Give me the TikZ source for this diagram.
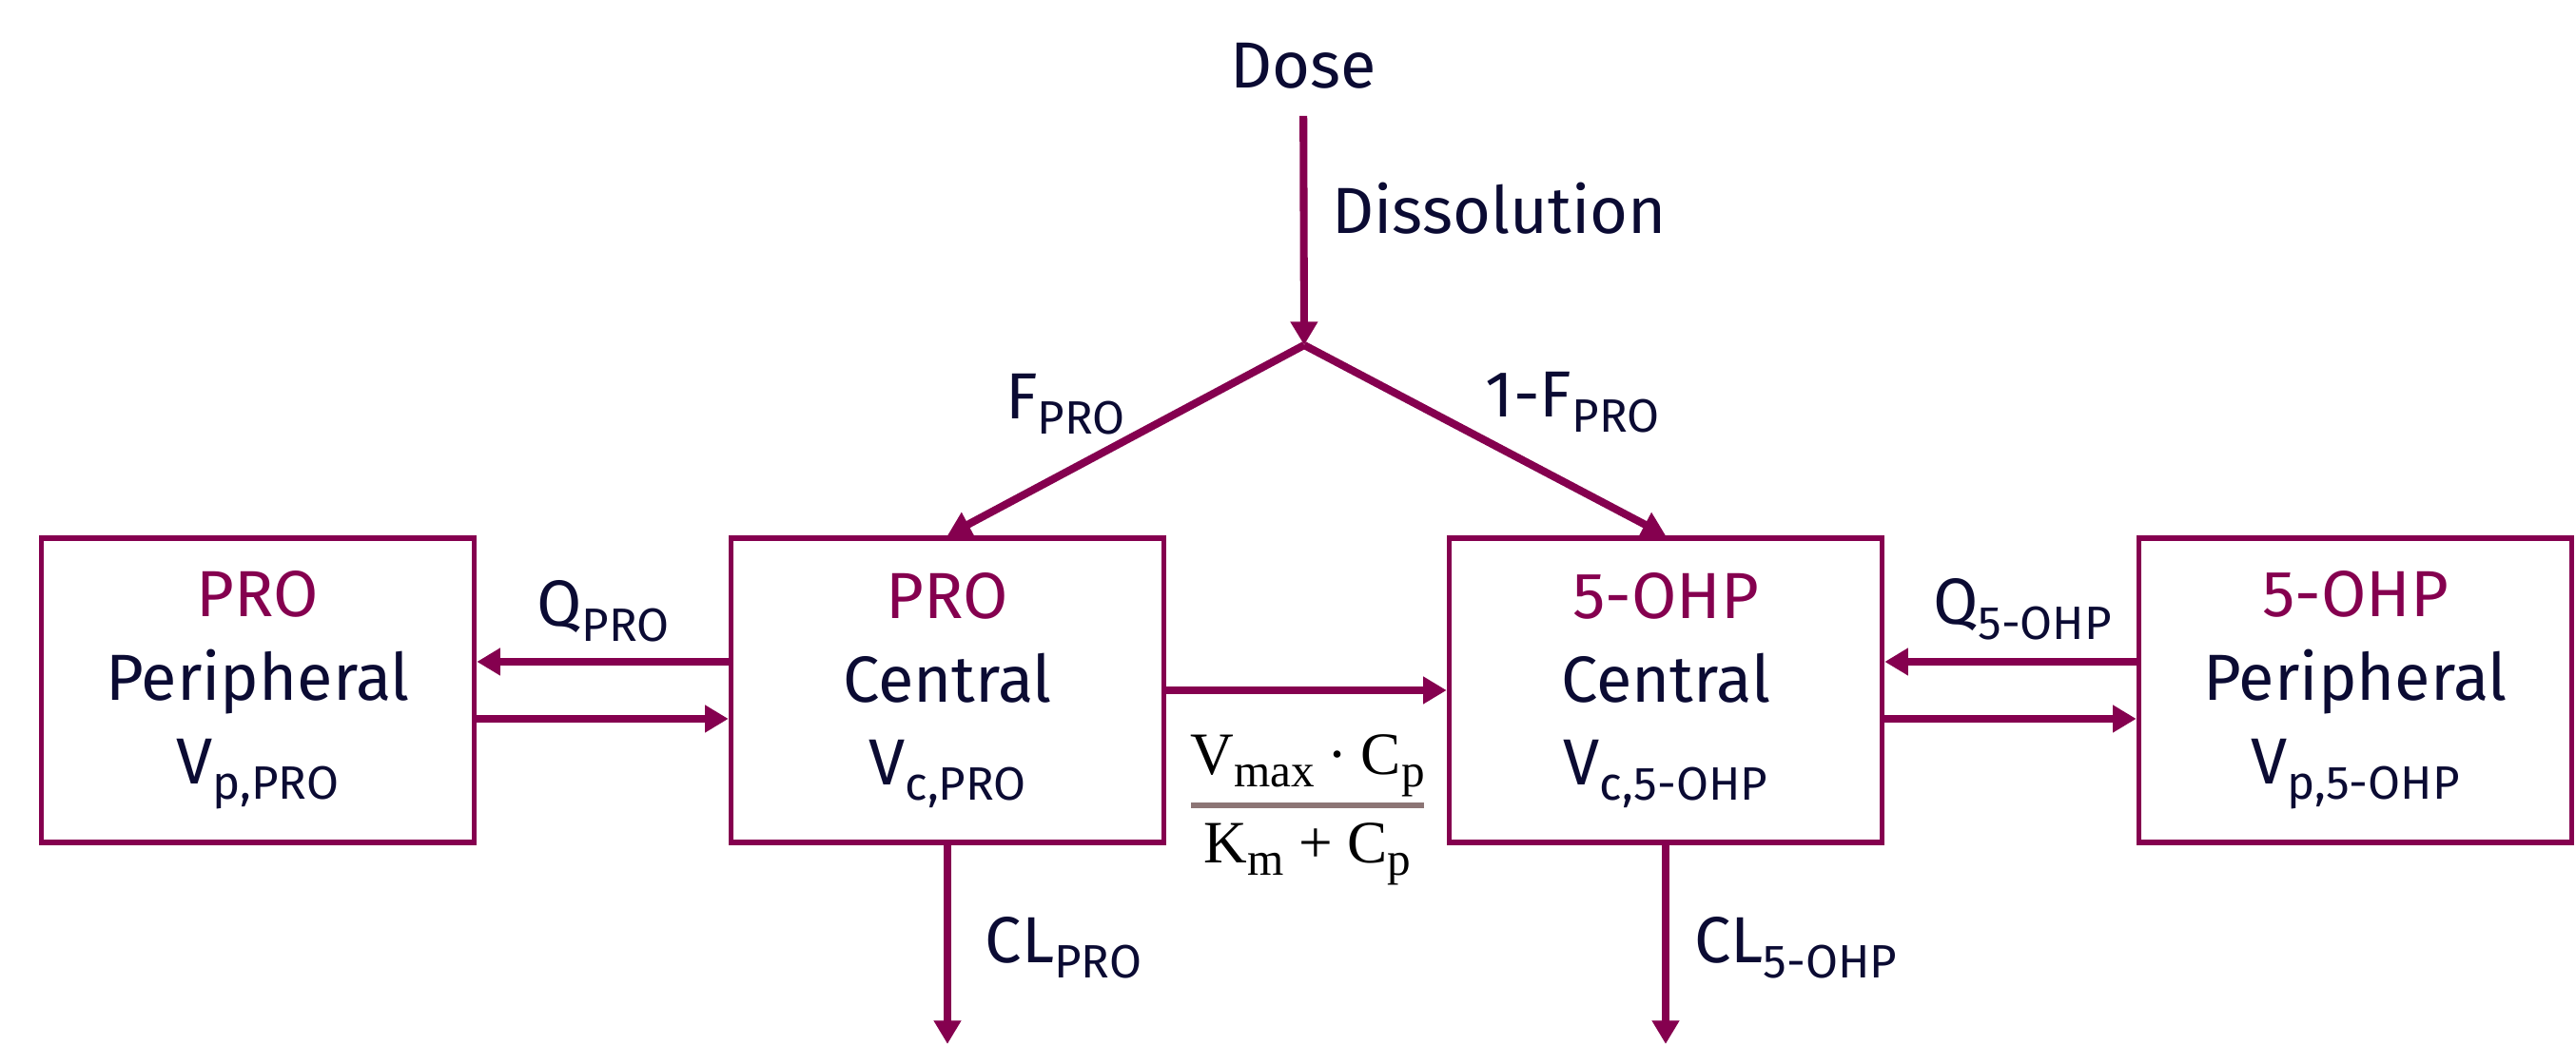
\documentclass[tikz,border=0pt]{standalone}
\usepackage[no-math]{fontspec}
\setmainfont{Fira Sans}
\newfontfamily\fracfont{Liberation Serif}
\usepackage{xcolor}
\usepackage{tikz}
\usetikzlibrary{arrows.meta, positioning, calc}

\definecolor{plum}{HTML}{85004F}
\definecolor{ink}{HTML}{0B0B33}
\definecolor{barcol}{HTML}{8C7575}
\newcommand{\lowtext}[1]{\raisebox{-4.5pt}{\fontsize{14}{14}\selectfont #1}}
\newcommand{\fracsub}[1]{\raisebox{-3.7pt}{\fontsize{14}{14}\selectfont #1}}

\begin{document}
\begin{tikzpicture}[
    comp/.style={draw=plum, line width=1.6pt, rectangle, minimum width=4.55cm,
      minimum height=3.2cm, align=center, text=ink, font=\fontsize{19.5}{25}\selectfont},
    lbl/.style={text=ink, font=\fontsize{19.5}{24}\selectfont, inner sep=0pt},
    mathlbl/.style={text=black, font=\fracfont\fontsize{18}{20}\selectfont, inner sep=0pt, anchor=base},
    arrow/.style={draw=plum, line width=2.3pt, -{Triangle[width=7.8pt,length=7pt]}}
]
\useasboundingbox (0,0) rectangle (27.08,10.98);

% Compartments
\node[comp] (perpro) at (2.71, 3.72) {\textcolor{plum}{PRO}\\Peripheral\\V\lowtext{p,PRO}};
\node[comp] (cenpro) at (9.96, 3.72) {\textcolor{plum}{PRO}\\Central\\V\lowtext{c,PRO}};
\node[comp] (cenohp) at (17.51, 3.72) {\textcolor{plum}{5-OHP}\\Central\\V\lowtext{c,5-OHP}};
\node[comp] (perohp) at (24.76, 3.72) {\textcolor{plum}{5-OHP}\\Peripheral\\V\lowtext{p,5-OHP}};

% Dosing
\node[lbl] (dose) at (13.70, 10.29) {Dose};
\coordinate (split) at (13.71, 7.35);
\node[lbl] (dissol) at (15.76, 8.79) {Dissolution};
\node[lbl] (fpro) at (11.20, 6.73) {F\lowtext{PRO}};
\node[lbl] (onefpro) at (16.53, 6.75) {1-F\lowtext{PRO}};

% Rate labels
\node[lbl] (qpro) at (6.34, 4.55) {Q\lowtext{PRO}};
\node[lbl] (qohp) at (21.26, 4.57) {Q\lowtext{5-OHP}};
\node[lbl] (clpro) at (11.18, 1.01) {CL\lowtext{PRO}};
\node[lbl] (clohp) at (18.88, 1.01) {CL\lowtext{5-OHP}};
\coordinate (clpro_end) at (9.96, 0);
\coordinate (clohp_end) at (17.51, 0);

% Michaelis-Menten term
\node[mathlbl] (num) at (13.745, 2.83) {V\fracsub{max}\hspace{4pt}·\hspace{4pt}C\fracsub{p}};
\node[mathlbl] (den) at (13.745, 1.90) {K\fracsub{m} + C\fracsub{p}};
\coordinate (bar_l) at (12.52, 2.51);
\coordinate (bar_r) at (14.97, 2.51);
\draw[barcol, line width=1.5pt] (bar_l) -- (bar_r);

% Arrows
\draw[arrow, shorten <=8pt] (dose) -- (split);
\draw[arrow] (split) -- (cenpro.north);
\draw[arrow] (split) -- (cenohp.north);
\draw[arrow] ([yshift=3mm]cenpro.west) -- ([yshift=3mm]perpro.east);
\draw[arrow] ([yshift=-3mm]perpro.east) -- ([yshift=-3mm]cenpro.west);
\draw[arrow] ([yshift=3mm]perohp.west) -- ([yshift=3mm]cenohp.east);
\draw[arrow] ([yshift=-3mm]cenohp.east) -- ([yshift=-3mm]perohp.west);
\draw[arrow] (cenpro.east) -- (cenohp.west);
\draw[arrow] (cenpro.south) -- (clpro_end);
\draw[arrow] (cenohp.south) -- (clohp_end);

\end{tikzpicture}
\end{document}
